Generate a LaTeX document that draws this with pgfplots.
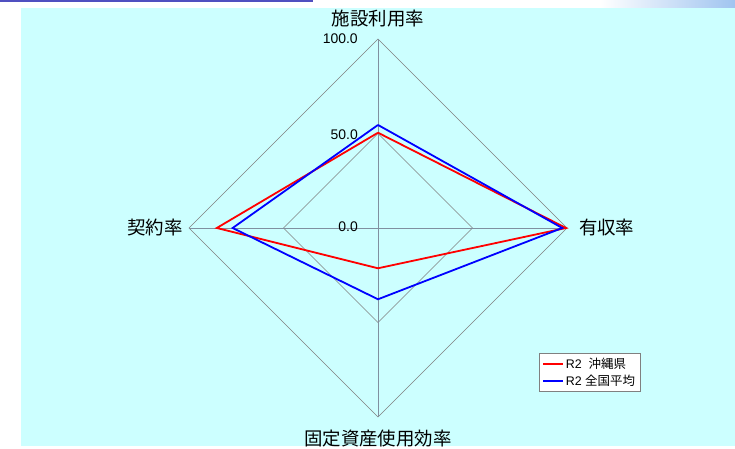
\documentclass[border=0pt]{standalone}
\usepackage{pgfplots}
\pgfplotsset{compat=1.18}
\usepackage{fontspec}
\setmainfont{Liberation Sans}
\newfontfamily\cjk{Noto Sans CJK JP}
\definecolor{bgcyan}{RGB}{204,255,255}
\definecolor{topblue}{RGB}{80,80,192}
\definecolor{gradblue}{RGB}{160,196,240}
\definecolor{spoke}{RGB}{128,144,160}
\definecolor{ring}{RGB}{128,128,128}
\begin{document}
\begin{tikzpicture}
\begin{axis}[
  scale only axis, width=735bp, height=449bp,
  xmin=-200, xmax=188.9, ymin=-116.9, ymax=120.6,
  hide axis, clip=false,
  legend style={at={(axis cs:85.2,-66.1)}, anchor=north west,
    draw=ring, fill=white, font=\fontsize{12.5}{14}\selectfont,
    inner xsep=3pt, inner ysep=2.5pt, row sep=1.5pt},
  legend cell align=left,
  legend image code/.code={\draw[#1] (0cm,0cm) -- (0.7cm,0cm);},
]
% backgrounds
\fill[white] (axis cs:-200,-116.9) rectangle (axis cs:188.9,120.6);
\fill[bgcyan] (axis cs:-188.9,-115.3) rectangle (axis cs:188.9,116.4);
\fill[topblue] (axis cs:-200,120.6) rectangle (axis cs:-34.4,119.6);
\shade[left color=white, right color=gradblue] (axis cs:117.5,120.6) rectangle (axis cs:188.9,116.4);
% grid diamonds
\addplot[ring, line width=0.6bp, forget plot] coordinates {(0,100) (100,0) (0,-100) (-100,0) (0,100)};
\addplot[ring, line width=0.6bp, forget plot] coordinates {(0,50) (50,0) (0,-50) (-50,0) (0,50)};
% spokes
\addplot[spoke, line width=0.9bp, forget plot] coordinates {(0,0) (0,100)};
\addplot[spoke, line width=0.9bp, forget plot] coordinates {(0,0) (100,0)};
\addplot[spoke, line width=0.9bp, forget plot] coordinates {(0,0) (0,-100)};
\addplot[spoke, line width=0.9bp, forget plot] coordinates {(0,0) (-100,0)};
% data: top=施設利用率, right=有収率, bottom=固定資産使用効率, left=契約率
\addplot[red, line width=1.8bp] coordinates {(0,50.4) (99.5,0) (0,-21.3) (-85.3,0) (0,50.4)};
\addlegendentry{R2\ \ {\cjk 沖縄県}}
\addplot[blue, line width=1.8bp] coordinates {(0,54.5) (97.5,0) (0,-37.7) (-76.9,0) (0,54.5)};
\addlegendentry{R2 {\cjk 全国平均}}
% scale labels
\node[anchor=east, font=\fontsize{14}{16}\selectfont, inner sep=0pt] at (axis cs:-10.6,100) {100.0};
\node[anchor=east, font=\fontsize{14}{16}\selectfont, inner sep=0pt] at (axis cs:-10.6,49.2) {50.0};
\node[anchor=east, font=\fontsize{14}{16}\selectfont, inner sep=0pt] at (axis cs:-10.6,0.5) {0.0};
% axis labels
\node[font=\cjk\fontsize{18.5}{21}\selectfont, inner sep=0pt] at (axis cs:0,111) {施設利用率};
\node[anchor=west, font=\cjk\fontsize{18.5}{21}\selectfont, inner sep=0pt] at (axis cs:106.3,0) {有収率};
\node[anchor=east, font=\cjk\fontsize{18.5}{21}\selectfont, inner sep=0pt] at (axis cs:-103.2,0) {契約率};
\node[font=\cjk\fontsize{18.5}{21}\selectfont, inner sep=0pt] at (axis cs:0,-111.1) {固定資産使用効率};
\end{axis}
\end{tikzpicture}
\end{document}
